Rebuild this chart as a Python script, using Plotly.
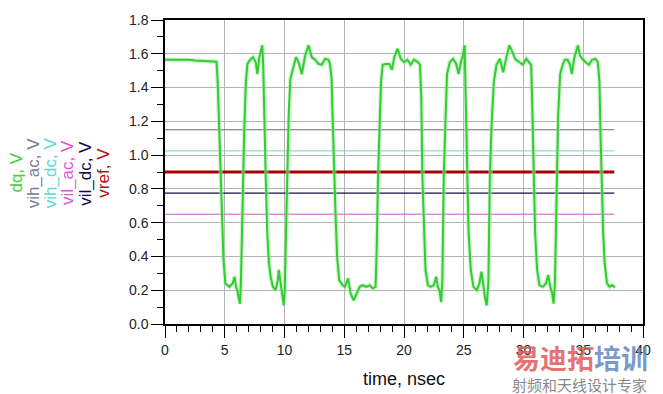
import plotly.graph_objects as go

# ---- data ----
t_ns = [0, 2.07, 2.48, 4.31, 4.41, 4.55, 4.64, 4.75, 4.89, 5.05, 5.38, 5.66, 5.82, 5.94, 6.05, 6.15, 6.27, 6.35,
        6.43, 6.52, 6.63, 6.77, 6.9, 7.18, 7.37, 7.59, 7.73, 7.87, 8.01, 8.14, 8.22, 8.34, 8.42, 8.55, 8.7, 8.84,
        9.03, 9.25, 9.44, 9.52, 9.66, 9.8, 9.94, 10.02, 10.13, 10.24, 10.35, 10.49, 10.77, 10.96, 11.18, 11.45,
        11.73, 12.01, 12.28, 12.56, 12.84, 13.11, 13.39, 13.66, 13.81, 13.94, 14.02, 14.14, 14.27, 14.41, 14.58,
        14.85, 15.05, 15.32, 15.54, 15.79, 16.01, 16.29, 16.56, 16.84, 17.12, 17.39, 17.62, 17.72, 17.83, 17.95,
        18.08, 18.22, 18.49, 18.77, 18.99, 19.19, 19.46, 19.74, 20.02, 20.29, 20.56, 20.84, 21.18, 21.34, 21.45,
        21.53, 21.67, 21.8, 22.0, 22.22, 22.5, 22.69, 22.83, 22.97, 23.11, 23.21, 23.33, 23.46, 23.6, 23.83, 24.1,
        24.37, 24.57, 24.76, 24.93, 25.07, 25.15, 25.26, 25.4, 25.59, 25.81, 26.09, 26.31, 26.48, 26.64, 26.77,
        26.92, 27.06, 27.19, 27.33, 27.52, 27.74, 28.02, 28.3, 28.57, 28.82, 29.07, 29.34, 29.67, 29.95, 30.23,
        30.5, 30.64, 30.72, 30.83, 30.97, 31.14, 31.33, 31.61, 31.88, 32.07, 32.24, 32.41, 32.52, 32.63, 32.77,
        32.9, 33.07, 33.27, 33.46, 33.68, 33.9, 34.04, 34.23, 34.43, 34.56, 34.73, 34.92, 35.2, 35.47, 35.75,
        36.02, 36.22, 36.36, 36.44, 36.52, 36.66, 36.79, 36.99, 37.21, 37.41, 37.6, 37.68]
dq_v = [1.565, 1.565, 1.56, 1.553, 1.435, 1.14, 0.89, 0.65, 0.39, 0.24, 0.22, 0.24, 0.28, 0.22, 0.2, 0.16, 0.12, 0.24,
        0.55, 0.89, 1.14, 1.435, 1.54, 1.57, 1.58, 1.55, 1.48, 1.57, 1.61, 1.65, 1.535, 1.24, 0.89, 0.55, 0.36, 0.28,
        0.22, 0.2, 0.26, 0.32, 0.24, 0.18, 0.11, 0.2, 0.55, 0.89, 1.24, 1.45, 1.535, 1.58, 1.55, 1.48,
        1.59, 1.65, 1.58, 1.565, 1.54, 1.535, 1.57, 1.565, 1.54, 1.45, 1.24, 0.89, 0.65, 0.39, 0.26,
        0.23, 0.22, 0.27, 0.18, 0.14, 0.18, 0.22, 0.23, 0.22, 0.23, 0.21, 0.22, 0.45, 0.89, 1.14,
        1.435, 1.535, 1.54, 1.54, 1.505, 1.58, 1.63, 1.57, 1.55, 1.565, 1.535, 1.565, 1.55, 1.535, 1.335,
        0.89, 0.55, 0.32, 0.23, 0.22, 0.23, 0.28, 0.22, 0.2, 0.13, 0.26, 0.89, 1.24, 1.48, 1.55, 1.57,
        1.54, 1.48, 1.55, 1.59, 1.65, 1.335, 0.89, 0.55, 0.32, 0.22, 0.2, 0.24, 0.31, 0.22, 0.16,
        0.11, 0.24, 0.89, 1.18, 1.435, 1.535, 1.57, 1.49, 1.58, 1.65, 1.61, 1.565, 1.55, 1.535, 1.57,
        1.55, 1.535, 1.335, 0.89, 0.55, 0.32, 0.23, 0.22, 0.24, 0.29, 0.22, 0.18, 0.12, 0.24, 0.89,
        1.24, 1.48, 1.535, 1.565, 1.565, 1.535, 1.48, 1.57, 1.63, 1.65, 1.59, 1.57, 1.55, 1.535, 1.565,
        1.57, 1.55, 1.435, 1.14, 0.89, 0.55, 0.36, 0.24, 0.22, 0.23, 0.22, 0.22]

ref_names = ["vih_ac, V", "vih_dc, V", "vil_ac, V", "vil_dc, V", "vref, V"]
ref_levels = [1.15, 1.025, 0.65, 0.775, 0.9]
ref_t = [0, 37.6]

legend_labels = ["dq, V", "vih_ac, V", "vih_dc, V", "vil_ac, V", "vil_dc, V", "vref, V"]
x_ticks = [0, 5, 10, 15, 20, 25, 30, 35, 40]
y_ticks = [0.0, 0.2, 0.4, 0.6, 0.8, 1.0, 1.2, 1.4, 1.6, 1.8]

# ---- styles ----
ref_colors = ["#6a6a7a", "#66d8d8", "#cc55cc", "#10104a", "#a80000"]
ref_widths = [1, 1, 1, 1.3, 3]
legend_colors = ["#44cc44", "#7a7a99", "#5fd6d6", "#dd55dd", "#0a0a50", "#bb1111"]

fig = go.Figure()
for name, lvl, col, w in zip(ref_names, ref_levels, ref_colors, ref_widths):
    fig.add_trace(go.Scatter(x=ref_t, y=[lvl, lvl], mode="lines", name=name,
                             line=dict(color=col, width=w), showlegend=False, hoverinfo="skip"))
# glow + core for dq
fig.add_trace(go.Scatter(x=t_ns, y=dq_v, mode="lines", line=dict(color="rgba(160,235,160,0.5)", width=4.5),
                         showlegend=False, hoverinfo="skip"))
fig.add_trace(go.Scatter(x=t_ns, y=dq_v, mode="lines", name="dq, V", line=dict(color="#33cc33", width=2),
                         showlegend=False))

axis_common = dict(showline=True, linecolor="black", linewidth=1.5, mirror=True,
                   showgrid=True, gridcolor="#b4b4b4", gridwidth=1, zeroline=False,
                   ticks="outside", tickcolor="black", ticklen=12, tickwidth=1,
                   tickfont=dict(family="Arial, Liberation Sans", size=14, color="#222222"))

fig.update_xaxes(range=[0, 40], tickvals=x_ticks, ticktext=[str(v) for v in x_ticks],
                 minor=dict(dtick=1, tick0=0, ticklen=6, ticks="outside", tickcolor="black", showgrid=False),
                 **axis_common)
fig.update_yaxes(range=[0, 1.8], tickvals=y_ticks, ticktext=["%.1f" % v for v in y_ticks],
                 minor=dict(dtick=0.1, tick0=0, ticklen=6, ticks="outside", tickcolor="black", showgrid=False),
                 **axis_common)


def px2paper(px, py):
    return (px - 165) / (648 - 165), (324 - py) / (324 - 18)


annotations = []
leg_x = [15, 33, 50, 67, 85, 103]
for lab, col, xp in zip(legend_labels, legend_colors, leg_x):
    lx, ly = px2paper(xp, 172)
    annotations.append(dict(text=lab, textangle=-90, x=lx, y=ly, xref="paper", yref="paper",
                            xanchor="center", yanchor="middle", showarrow=False,
                            font=dict(family="Arial, Liberation Sans", size=17, color=col)))

ax, ay = px2paper(406, 379)
annotations.append(dict(text="time, nsec", x=ax, y=ay, xref="paper", yref="paper", showarrow=False,
                        xanchor="center", yanchor="middle",
                        font=dict(family="Arial, Liberation Sans", size=18, color="#111111")))
# watermark
wx, wy = px2paper(585, 358)
annotations.append(dict(text="<b><span style='color:rgba(225,90,90,0.85)'>易迪拓</span>"
                             "<span style='color:rgba(100,135,190,0.85)'>培训</span></b>",
                        x=wx, y=wy, xref="paper", yref="paper", showarrow=False,
                        xanchor="center", yanchor="middle",
                        font=dict(family="Noto Sans CJK SC", size=27)))
wx2, wy2 = px2paper(584, 385)
annotations.append(dict(text="射频和天线设计专家", x=wx2, y=wy2, xref="paper", yref="paper", showarrow=False,
                        xanchor="center", yanchor="middle",
                        font=dict(family="Noto Sans CJK SC", size=15, color="rgba(120,120,120,0.9)")))

fig.update_layout(width=663, height=394, margin=dict(l=165, r=15, t=18, b=70),
                  paper_bgcolor="white", plot_bgcolor="white", showlegend=False,
                  annotations=annotations)

fig.write_html("out.html")
